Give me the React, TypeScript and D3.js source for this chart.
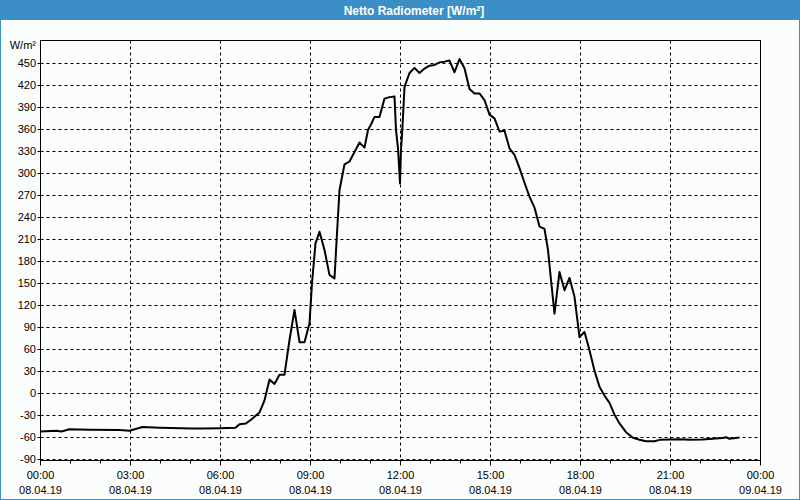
import React from "react";
import * as d3 from "d3";

const TITLE = "Netto Radiometer [W/m²]";
const UNIT = "W/m²";

const yTicks = [-90, -60, -30, 0, 30, 60, 90, 120, 150, 180, 210, 240, 270, 300, 330, 360, 390, 420, 450];
const xTickHours = [0, 3, 6, 9, 12, 15, 18, 21, 24];
const xTickTimes = ["00:00", "03:00", "06:00", "09:00", "12:00", "15:00", "18:00", "21:00", "00:00"];
const xTickDates = ["08.04.19", "08.04.19", "08.04.19", "08.04.19", "08.04.19", "08.04.19", "08.04.19", "08.04.19", "09.04.19"];

const times = [
  "00:00", "00:32", "00:42", "00:58", "01:38", "02:38", "02:58", "03:24", "03:58", "05:04",
  "05:24", "05:58", "06:30", "06:38", "06:51", "07:01", "07:18", "07:28", "07:38", "07:48",
  "07:58", "08:08", "08:18", "08:28", "08:38", "08:48", "08:58", "09:03", "09:10", "09:18",
  "09:28", "09:38", "09:48", "09:52", "09:58", "10:08", "10:18", "10:28", "10:38", "10:48",
  "10:55", "11:02", "11:08", "11:18", "11:28", "11:38", "11:48", "11:51", "11:55", "11:57",
  "11:59", "12:01", "12:04", "12:08", "12:18", "12:28", "12:38", "12:48", "12:58", "13:08",
  "13:18", "13:28", "13:38", "13:48", "13:58", "14:08", "14:18", "14:28", "14:38", "14:48",
  "14:58", "15:08", "15:18", "15:28", "15:38", "15:48", "15:58", "16:08", "16:18", "16:28",
  "16:38", "16:48", "16:55", "17:01", "17:08", "17:18", "17:28", "17:38", "17:48", "17:58",
  "18:08", "18:18", "18:28", "18:38", "18:48", "18:58", "19:08", "19:18", "19:31", "19:45",
  "19:58", "20:11", "20:28", "20:38", "21:18", "21:38", "22:04", "22:24", "22:44", "22:52",
  "22:58", "23:18",
];

const values = [
  -53, -52, -53, -50, -50.5, -51, -52, -47, -48, -49,
  -49, -48.5, -48, -43, -42, -37, -27, -10.5, 18, 12,
  24.6, 24.6, 72, 113, 69, 69, 95, 150, 204, 220,
  195, 161, 156, 206, 277, 312, 316, 329, 342, 335,
  359, 368, 377, 377, 402, 404, 405, 359, 334, 311,
  286, 332, 364, 418, 437, 444, 437, 443, 447, 448,
  451.5, 452.5, 454, 438, 456, 443.5, 415, 409, 409, 400,
  380, 375, 357, 358, 334, 325, 307, 287, 268, 253,
  227, 224, 195, 154, 108, 165, 140, 157, 131, 76,
  83, 58, 30, 8, -4, -14, -30, -42, -54, -61.6,
  -64.3, -66.5, -66.5, -64.5, -63.5, -64.3, -64, -63, -62, -61,
  -63, -61.2,
];

const W = 800;
const H = 500;
const L = 40.5, R = 760.5, T = 40.5, B = 460.5;
const FONT = "'Liberation Sans', Arial, sans-serif";

function toMin(s: string) {
  const [h, m] = s.split(":").map(Number);
  return h * 60 + m;
}

export default function App() {
  const x = d3.scaleLinear().domain([0, 1440]).range([L, R]);
  const y = d3.scaleLinear().domain([-92.7, 481.4]).range([B, T]);
  const pts: [number, number][] = times.map((t, i) => [toMin(t), values[i]]);
  const line = d3.line<[number, number]>().x((d) => x(d[0])).y((d) => y(d[1]));
  const hours = d3.range(0, 25);

  return (
    <div style={{ position: "absolute", left: 0, top: 0 }}>
      <svg width={W} height={H} style={{ display: "block" }}>
        <rect x={0} y={0} width={W} height={H} fill="#3b8ec6" />
        <rect x={1} y={20} width={W - 2} height={H - 21} fill="#fafdfc" />
        <text x={414} y={14.5} textAnchor="middle" fill="#fff" fontFamily={FONT} fontWeight="bold" fontSize={12}>
          {TITLE}
        </text>
        {/* horizontal grid */}
        {yTicks.map((v) => (
          <g key={"y" + v}>
            <line x1={L} x2={R} y1={Math.round(y(v)) + 0.5} y2={Math.round(y(v)) + 0.5} stroke="#000" strokeDasharray="3,3" />
            <line x1={L - 3} x2={L} y1={Math.round(y(v)) + 0.5} y2={Math.round(y(v)) + 0.5} stroke="#000" />
            <text x={36} y={Math.round(y(v)) + 4} textAnchor="end" fontFamily={FONT} fontSize={11} fill="#000">
              {v}
            </text>
          </g>
        ))}
        {/* vertical grid */}
        {xTickHours.slice(1, -1).map((h) => (
          <line key={"x" + h} x1={x(h * 60)} x2={x(h * 60)} y1={T} y2={B} stroke="#000" strokeDasharray="3,3" />
        ))}
        {hours.map((h) => (
          <line key={"t" + h} x1={x(h * 60)} x2={x(h * 60)} y1={B} y2={B + (h % 3 === 0 ? 5 : 3)} stroke="#000" />
        ))}
        {xTickHours.map((h, i) => (
          <g key={"xl" + i}>
            <text x={x(h * 60)} y={479} textAnchor="middle" fontFamily={FONT} fontSize={11} fill="#000">
              {xTickTimes[i]}
            </text>
            <text x={x(h * 60)} y={494} textAnchor="middle" fontFamily={FONT} fontSize={11} fill="#000">
              {xTickDates[i]}
            </text>
          </g>
        ))}
        <text x={36} y={49} textAnchor="end" fontFamily={FONT} fontSize={11} fill="#000">
          {UNIT}
        </text>
        <rect x={L} y={T} width={R - L} height={B - T} fill="none" stroke="#000" />
        <path d={line(pts) || ""} fill="none" stroke="#000" strokeWidth={2} strokeLinejoin="round" />
      </svg>
    </div>
  );
}
